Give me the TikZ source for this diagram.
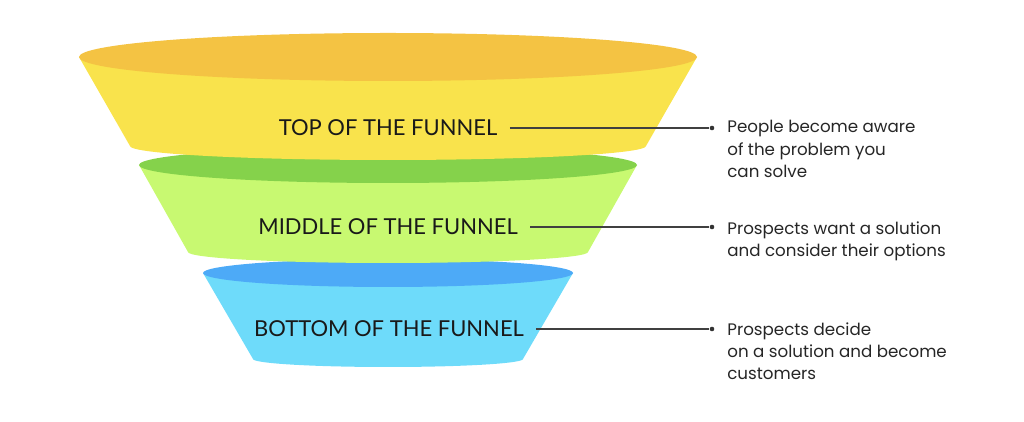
\documentclass[tikz,border=0pt]{standalone}
\usepackage{fontspec}
\setmainfont{Lato}
\newfontfamily\notefont{Poppins}
\definecolor{yellowside}{HTML}{F9E34C}
\definecolor{yellowtop}{HTML}{F4C343}
\definecolor{greenside}{HTML}{C8F971}
\definecolor{greentop}{HTML}{85D24B}
\definecolor{blueside}{HTML}{6EDBFA}
\definecolor{bluetop}{HTML}{4DAAF7}
\begin{document}
\begin{tikzpicture}[x=0.02cm, y=0.02cm,
      stage/.style={font=\fontsize{12.5}{14}\selectfont, text=black!90, inner sep=0pt},
      note/.style={font=\notefont\fontsize{9.5}{12.7}\selectfont, align=left,
        inner sep=0pt, anchor=north west, text=black!85},
      dot/.style={circle, fill=black!80, inner sep=0pt, minimum size=2.6pt},
      lead/.style={draw=black!75, line width=0.6pt, shorten <=7pt},
    ]
    \useasboundingbox (0,0) rectangle (1024,422);

    % funnel parts, lowest first so the upper one lies on top
    \foreach \ty/\rt/\rty/\by/\rb/\rby/\side/\top in {
        149/185/14/63/135/8/blueside/bluetop,
        257/249/18/170/200/11/greenside/greentop,
        365/309/24/276/258/14/yellowside/yellowtop} {
      \fill[\side] (388-\rt,\ty) -- (388-\rb,\by)
        arc[start angle=180, end angle=360, x radius=\rb, y radius=\rby]
        -- (388+\rt,\ty) -- cycle;
      \fill[\top] (388,\ty) ellipse[x radius=\rt, y radius=\rty];
    }

    \node[stage] (t1) at (388, 294) {TOP OF THE FUNNEL};
    \node[stage] (t2) at (388, 195) {MIDDLE OF THE FUNNEL};
    \node[stage] (t3) at (389,  93) {BOTTOM OF THE FUNNEL};

    \node[dot] (d1) at (712, 294) {};
    \node[dot] (d2) at (712, 195) {};
    \node[dot] (d3) at (712,  93) {};

    \node[note] (n1) at (727, 302) {People become aware \\ of the problem you \\ can solve};
    \node[note] (n2) at (727, 201) {Prospects want a solution \\ and consider their options};
    \node[note] (n3) at (727, 100) {Prospects decide \\ on a solution and become \\ customers};

    \draw[lead] (t1) -- (d1);
    \draw[lead] (t2) -- (d2);
    \draw[lead] (t3) -- (d3);
  \end{tikzpicture}
\end{document}
